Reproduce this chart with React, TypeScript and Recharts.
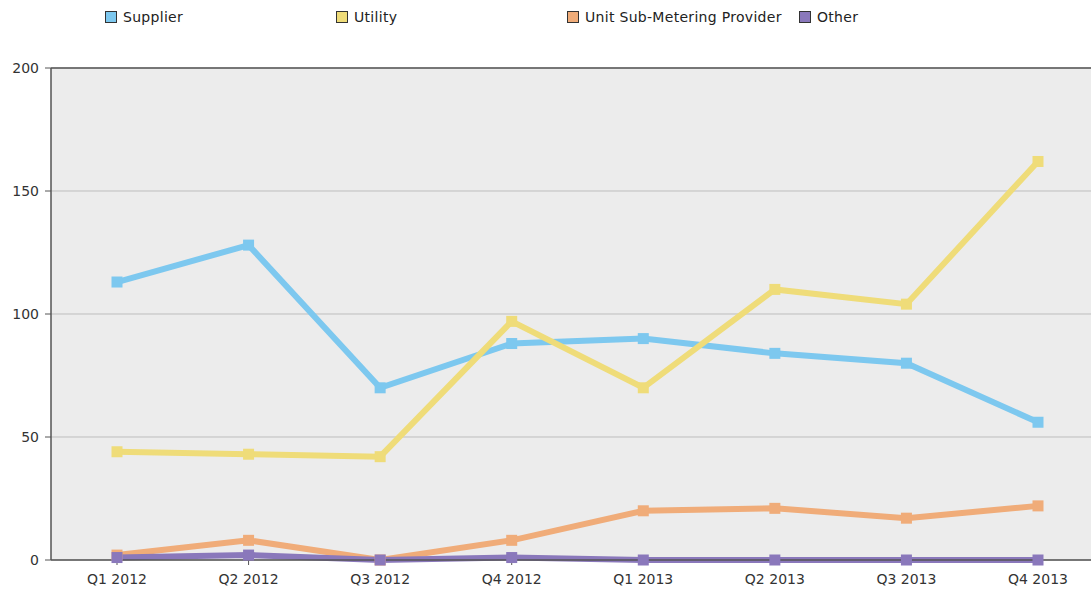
import { LineChart, Line, XAxis, YAxis, CartesianGrid, ReferenceLine } from 'recharts';

const quarters = ['Q1 2012', 'Q2 2012', 'Q3 2012', 'Q4 2012', 'Q1 2013', 'Q2 2013', 'Q3 2013', 'Q4 2013'];
const supplier = [113, 128, 70, 88, 90, 84, 80, 56];
const utility = [44, 43, 42, 97, 70, 110, 104, 162];
const subMetering = [2, 8, 0, 8, 20, 21, 17, 22];
const other = [1, 2, 0, 1, 0, 0, 0, 0];
const yTicks = [0, 50, 100, 150, 200];

const series = [
  { key: 'supplier', name: 'Supplier', color: '#7dc8ef', legendX: 105 },
  { key: 'utility', name: 'Utility', color: '#efdc79', legendX: 336 },
  { key: 'subMetering', name: 'Unit Sub-Metering Provider', color: '#f0ac79', legendX: 567 },
  { key: 'other', name: 'Other', color: '#8a78bb', legendX: 799 },
];

const data = quarters.map((q, i) => ({
  quarter: q,
  supplier: supplier[i],
  utility: utility[i],
  subMetering: subMetering[i],
  other: other[i],
}));

const FONT = '"DejaVu Sans", Verdana, sans-serif';
const tickStyle = { fontSize: 14, fill: '#333', fontFamily: FONT };

function squareDot(color: string) {
  return (p: any) => {
    if (p.cx == null || p.cy == null) return <g key={p.key} />;
    return <rect key={p.key} x={p.cx - 5.5} y={p.cy - 5.5} width={11} height={11} fill={color} />;
  };
}

export default function App() {
  return (
    <div style={{ position: 'absolute', left: 0, top: 0, width: 1091, height: 592, overflow: 'hidden', background: '#fff' }}>
      {series.map((s) => (
        <div
          key={s.key}
          style={{
            position: 'absolute',
            left: s.legendX,
            top: 9,
            display: 'flex',
            alignItems: 'center',
            fontFamily: FONT,
            fontSize: 14,
            color: '#222',
            whiteSpace: 'nowrap',
            letterSpacing: 0.3,
          }}
        >
          <span style={{ display: 'inline-block', width: 10, height: 10, background: s.color, border: '1px solid #333', marginRight: 6 }} />
          {s.name}
        </div>
      ))}
      <LineChart width={1110} height={592} data={data} margin={{ top: 68, right: 7, bottom: 2, left: 0 }}>
        <CartesianGrid vertical={false} stroke="#bdbdbd" fill="#ececec" />
        <XAxis
          dataKey="quarter"
          height={30}
          tick={tickStyle}
          tickSize={5}
          tickMargin={9}
          padding={{ left: 66, right: 65 }}
          axisLine={{ stroke: '#555', strokeWidth: 1.5 }}
          tickLine={{ stroke: '#555' }}
          interval={0}
        />
        <YAxis
          width={51}
          domain={[0, 200]}
          ticks={yTicks}
          tick={tickStyle}
          tickSize={6}
          tickMargin={6}
          axisLine={{ stroke: '#555', strokeWidth: 1.5 }}
          tickLine={{ stroke: '#555' }}
        />
        <ReferenceLine y={200} stroke="#555" strokeWidth={1.5} />
        {series.map((s) => (
          <Line
            key={s.key}
            type="linear"
            dataKey={s.key}
            name={s.name}
            stroke={s.color}
            strokeWidth={6}
            dot={squareDot(s.color)}
            activeDot={false}
            isAnimationActive={false}
          />
        ))}
      </LineChart>
    </div>
  );
}
